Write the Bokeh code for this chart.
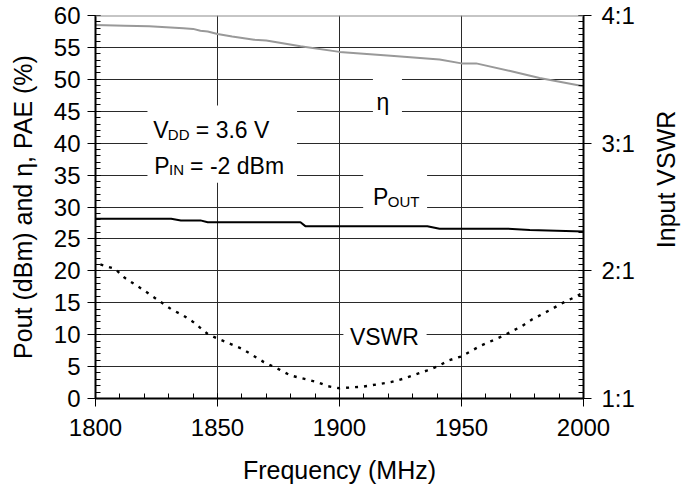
import math
from bokeh.plotting import figure
from bokeh.layouts import row
from bokeh.models import (Range1d, LinearAxis, SingleIntervalTicker, Label,
                          BoxAnnotation, Span, PrintfTickFormatter)
from bokeh.embed import file_html
from bokeh.resources import INLINE

# ---- data ----
eta_freq = [1800, 1812, 1822, 1836, 1840, 1843, 1846, 1850, 1856, 1865, 1870,
            1884, 1900, 1921, 1941, 1950, 1956, 1970, 1982, 2000]
eta_val = [58.5, 58.4, 58.3, 58.0, 57.9, 57.6, 57.5, 57.1, 56.7, 56.2, 56.1,
           55.2, 54.3, 53.7, 53.1, 52.5, 52.5, 51.3, 50.2, 48.9]

pout_freq = [1800, 1831, 1835, 1843, 1846, 1884, 1886, 1936, 1941, 1969, 1978, 2000]
pout_val = [28.15, 28.15, 27.9, 27.9, 27.6, 27.6, 27.0, 27.0, 26.6, 26.6, 26.4, 26.15]

vswr_freq = [1802, 1808, 1812, 1820, 1831, 1836, 1840, 1846, 1850, 1855, 1860,
             1869, 1874, 1880, 1891, 1895, 1900, 1910, 1921, 1926, 1930, 1936,
             1940, 1945, 1950, 1958, 1967, 1975, 1979, 1987, 1991, 1996, 2000]
vswr_val = [2.05, 2.015, 1.945, 1.845, 1.70, 1.65, 1.60, 1.505, 1.47, 1.43, 1.39,
            1.285, 1.24, 1.18, 1.128, 1.097, 1.08, 1.094, 1.128, 1.154, 1.18, 1.22,
            1.25, 1.30, 1.33, 1.415, 1.49, 1.57, 1.62, 1.70, 1.745, 1.79, 1.83]

FONT = "Liberation Sans"

p = figure(width=637, height=493, output_backend="svg", toolbar_location=None,
           x_range=Range1d(1800, 2000), y_range=Range1d(0, 60),
           min_border_left=95, min_border_right=53, min_border_top=15,
           min_border_bottom=95)
p.extra_y_ranges = {"vswr": Range1d(1, 4)}
p.outline_line_color = None
p.background_fill_color = "white"
p.border_fill_color = "white"

# axes
p.xaxis.ticker = SingleIntervalTicker(interval=50, num_minor_ticks=5)
p.yaxis.ticker = SingleIntervalTicker(interval=5, num_minor_ticks=5)
p.xaxis.axis_label = "Frequency (MHz)"
p.yaxis.axis_label = "Pout (dBm) and \u03b7, PAE (%)"

raxis = LinearAxis(y_range_name="vswr",
                   ticker=SingleIntervalTicker(interval=1, num_minor_ticks=20),
                   formatter=PrintfTickFormatter(format="%d:1"))
p.add_layout(raxis, "right")

for ax in [p.xaxis[0], p.yaxis[0], raxis]:
    ax.axis_line_color = "black"
    ax.axis_line_width = 2
    ax.major_tick_line_color = "black"
    ax.minor_tick_line_color = "black"
    ax.major_tick_out = 8
    ax.major_tick_in = 5
    ax.minor_tick_in = 5
    ax.minor_tick_out = 0
    ax.major_label_text_font = FONT
    ax.major_label_text_font_size = "24px"
    ax.major_label_text_color = "black"
    ax.axis_label_text_font = FONT
    ax.axis_label_text_font_size = "25px"
    ax.axis_label_text_font_style = "normal"
    ax.axis_label_text_color = "black"

p.xaxis.major_label_standoff = 12
p.xaxis.axis_label_standoff = 17
p.yaxis.major_label_standoff = 7
p.yaxis.axis_label_standoff = 14
raxis.major_label_standoff = 10

# grid
p.xgrid.ticker = SingleIntervalTicker(interval=50)
p.ygrid.ticker = SingleIntervalTicker(interval=5)
p.grid.grid_line_color = "#2a2a2a"
p.grid.grid_line_width = 1

# top border line
p.add_layout(Span(location=60, dimension="width", line_color="#8c8c8c", line_width=2))

# data lines
p.line(eta_freq, eta_val, line_color="#999999", line_width=2)
p.line(pout_freq, pout_val, line_color="black", line_width=2)
p.line(vswr_freq, vswr_val, y_range_name="vswr", line_color="black",
       line_width=2.4, line_dash="3 6")

# white boxes behind in-plot text
for (l, r, b, t) in [(1821.3, 1882.6, 33.8, 45.9),
                     (1913.7, 1925.6, 44.0, 51.0),
                     (1909.7, 1935.9, 28.2, 36.0),
                     (1901.6, 1935.7, 6.0, 14.0)]:
    p.add_layout(BoxAnnotation(left=l, right=r, bottom=b, top=t,
                               fill_color="white", fill_alpha=1.0,
                               line_color=None))

def lab(x, y, text, size="23px", xo=0, yo=0, align="left"):
    p.add_layout(Label(x=x, y=y, text=text, x_offset=xo, y_offset=yo,
                       text_font=FONT, text_font_size=size, text_color="black",
                       text_align=align, text_baseline="alphabetic"))

# V_DD = 3.6 V
lab(1823.7, 42.0, "V")
lab(1823.7, 42.0, "DD", size="15px", xo=14.5, yo=-4)
lab(1823.7, 42.0, "= 3.6 V", xo=42.5)
# P_IN = -2 dBm
lab(1824.1, 36.5, "P")
lab(1824.1, 36.5, "IN", size="15px", xo=14.8, yo=-4)
lab(1824.1, 36.5, "= -2 dBm", xo=35.8)
# eta
lab(1917.8, 46.4, "\u03b7", align="center")
# P_OUT
lab(1913.7, 31.5, "P")
lab(1913.7, 31.5, "OUT", size="15px", xo=14.8, yo=-4)
# VSWR
lab(1918.4, 9.56, "VSWR", align="center")

# narrow strip on the right carrying the right-axis title (reads bottom-to-top)
p2 = figure(width=50, height=493, output_backend="svg", toolbar_location=None,
            x_range=Range1d(0, 1), y_range=Range1d(0, 1),
            x_axis_type=None, y_axis_type=None,
            min_border_left=0, min_border_right=0, min_border_top=0,
            min_border_bottom=0)
p2.outline_line_color = None
p2.grid.visible = False
p2.background_fill_color = "white"
p2.border_fill_color = "white"
p2.add_layout(Label(x=0.56, y=0.572, text="Input VSWR", angle=math.pi / 2,
                    text_font=FONT, text_font_size="25px", text_color="black",
                    text_align="center", text_baseline="middle"))

layout = row(p, p2, spacing=0)
open("out.html", "w").write(file_html(layout, INLINE))
